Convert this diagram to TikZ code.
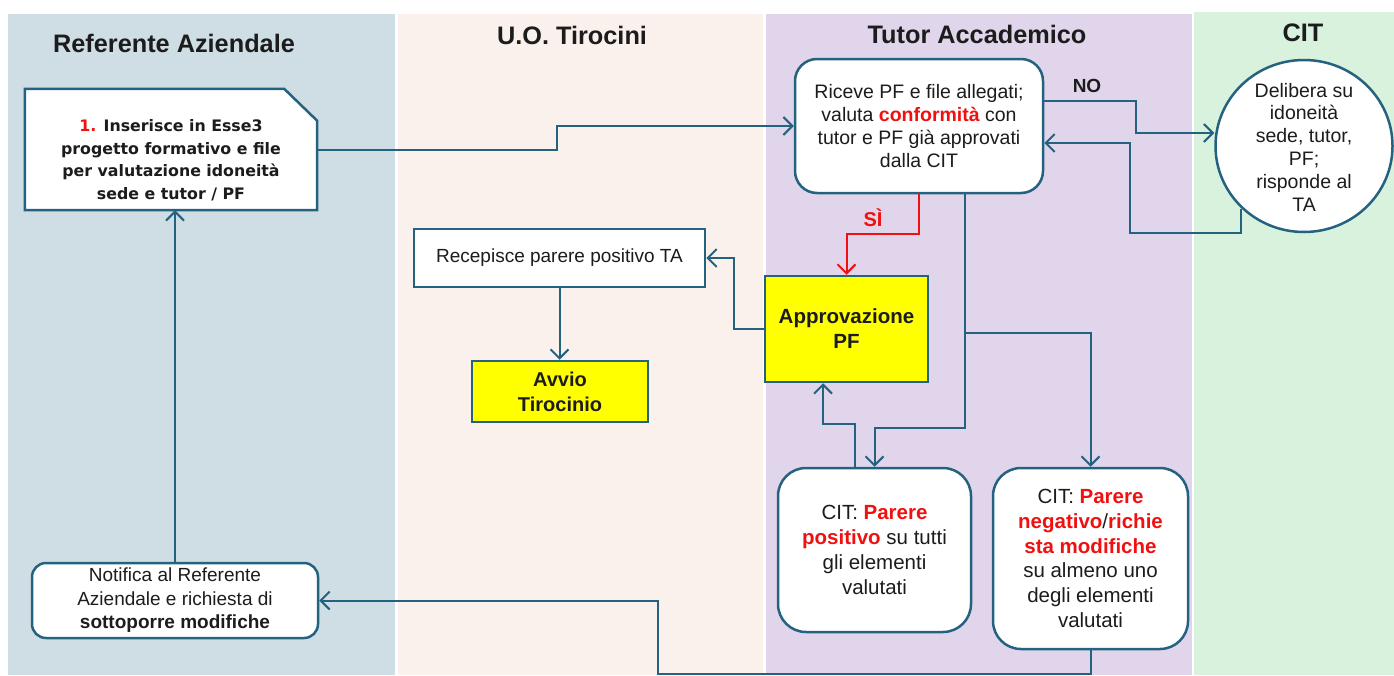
\documentclass[tikz,border=0pt]{standalone}
\usepackage{fontspec}
\setmainfont{Liberation Sans}
\newfontfamily\dvfont{DejaVu Sans}
\usetikzlibrary{arrows.meta,shapes.geometric,calc}
\definecolor{ln}{RGB}{36,98,128}
\definecolor{laneA}{RGB}{207,221,229}
\definecolor{laneB}{RGB}{251,241,236}
\definecolor{laneC}{RGB}{225,213,235}
\definecolor{laneD}{RGB}{216,242,221}
\definecolor{yel}{RGB}{255,255,0}
\definecolor{rd}{RGB}{240,16,16}
\definecolor{txt}{RGB}{28,28,28}
\tikzset{
  arr/.style={draw=ln, line width=2pt, -{Straight Barb[length=9pt,width=18pt,line width=2pt]}},
  redarr/.style={arr, draw=rd},
  box/.style={draw=ln, line width=2.5pt, fill=white, align=center, text=txt, inner sep=0pt},
  rbox/.style={box, rounded corners=22pt},
  ybox/.style={box, fill=yel},
  lanetitle/.style={font=\fontsize{25.3}{29}\selectfont\bfseries, text=txt, inner sep=0pt},
  regtext/.style={font=\fontsize{19.5}{22.8}\selectfont},
  bigtext/.style={font=\fontsize{20.5}{24.8}\selectfont}
}
\begin{document}
\begin{tikzpicture}[x=1pt,y=-1pt]
\useasboundingbox (0,0) rectangle (1394,675);
\fill[white] (0,0) rectangle (1394,675);
% lanes
\fill[laneA] (8,14) rectangle (395,675);
\fill[laneB] (398,14) rectangle (763,675);
\fill[laneC] (766,14) rectangle (1192,675);
\fill[laneD] (1194,12) rectangle (1394,675);
% titles
\node[lanetitle] (tA) at (174,43.5) {Referente Aziendale};
\node[lanetitle] (tB) at (572,35) {U.O. Tirocini};
\node[lanetitle] (tC) at (977,34) {Tutor Accademico};
\node[lanetitle] (tD) at (1303,33) {CIT};

% box 1 (snipped corner)
\node[draw=none, minimum width=292pt, minimum height=121pt, inner sep=0pt] (b1) at (171,149.5) {};
\filldraw[fill=white, draw=ln, line width=2.5pt, line join=miter]
  (b1.north west) -- ([xshift=-33pt]b1.north east) -- ([yshift=-32pt]b1.north east)
  -- (b1.south east) -- (b1.south west) -- cycle;
\node[align=center, text=txt, inner sep=0pt, font=\dvfont\bfseries\fontsize{15.8}{22.5}\selectfont] (b1t) at (171,160)
  {\textcolor{rd}{1.} Inserisce in Esse3\\progetto formativo e file\\per valutazione idoneità\\sede e tutor / PF};

% Tutor Accademico main box
\node[rbox, regtext, minimum width=248pt, minimum height=134pt] (ta) at (919,126)
  {Riceve PF e file allegati;\\valuta \textcolor{rd}{\bfseries conformità} con\\tutor e PF già approvati\\dalla CIT};

% CIT ellipse
\node[box, ellipse, minimum width=177pt, minimum height=172pt] (cit) at (1304,146) {};
\node[align=center, text=txt, inner sep=0pt, regtext] (citt) at (1304,147)
  {Delibera su\\idoneità\\sede, tutor,\\PF;\\risponde al\\TA};

% Approvazione
\node[ybox, minimum width=163pt, minimum height=106pt, font=\fontsize{20.5}{25}\selectfont\bfseries] (ap) at (846.5,329)
  {Approvazione\\PF};

% Recepisce
\node[box, minimum width=291pt, minimum height=58pt, font=\fontsize{19}{23}\selectfont] (rc) at (559.5,258)
  {Recepisce parere positivo TA};

% Avvio
\node[ybox, minimum width=176pt, minimum height=61pt, font=\fontsize{20}{25}\selectfont\bfseries] (av) at (560,391.5)
  {Avvio\\Tirocinio};

% Parere positivo
\node[rbox, rounded corners=28pt, bigtext, minimum width=193pt, minimum height=164pt] (pos) at (874.5,550)
  {CIT: \textcolor{rd}{\bfseries Parere}\\\textcolor{rd}{\bfseries positivo} su tutti\\gli elementi\\valutati};

% Parere negativo
\node[rbox, rounded corners=28pt, bigtext, minimum width=195pt, minimum height=181pt] (neg) at (1090.5,558.5)
  {CIT: \textcolor{rd}{\bfseries Parere}\\\textcolor{rd}{\bfseries negativo}/\textcolor{rd}{\bfseries richie}\\\textcolor{rd}{\bfseries sta modifiche}\\su almeno uno\\degli elementi\\valutati};

% Notifica
\node[rbox, rounded corners=14pt, minimum width=286pt, minimum height=75pt, font=\fontsize{19}{23.5}\selectfont] (nt) at (175,600.5)
  {Notifica al Referente\\Aziendale e richiesta di\\\textbf{sottoporre modifiche}};

% labels
\node[font=\fontsize{19}{22}\selectfont\bfseries, text=txt, inner sep=0pt] (no) at (1087,86) {NO};
\node[font=\fontsize{20}{22}\selectfont\bfseries, text=rd, inner sep=0pt] (si) at (873,218) {SÌ};

% connectors
\draw[arr] (b1.east) -- ++(240,0) |- (ta.west);
\draw[arr] ([yshift=25pt]ta.east) -- ++(92,0) |- ([yshift=13pt]cit.west);
\draw[arr] (cit.225) -- ++(0,24) -| (1130,143) -- ([yshift=-17pt]ta.east);
\draw[redarr] (ta.south) -- ++(0,40) -| (ap.north);
\draw[arr] (ap.west) -- ++(-30,0) |- (rc.east);
\draw[arr] (rc.south) -- (rc.south |- av.north);
\draw[arr] ([xshift=46pt]ta.south) -- ++(0,234) -| (pos.north);
\draw[arr] ($(ta.south)+(46,139)$) -| (neg.north);
\draw[arr] ([xshift=-20pt]pos.north) -- ++(0,-43) -| ([xshift=-23.5pt]ap.south);
\draw[arr] (neg.south) -- ++(0,24) -| ($(nt.east)+(339,0)$) -- (nt.east);
\draw[arr] (nt.north) -- (nt.north |- b1.south);
\end{tikzpicture}
\end{document}
